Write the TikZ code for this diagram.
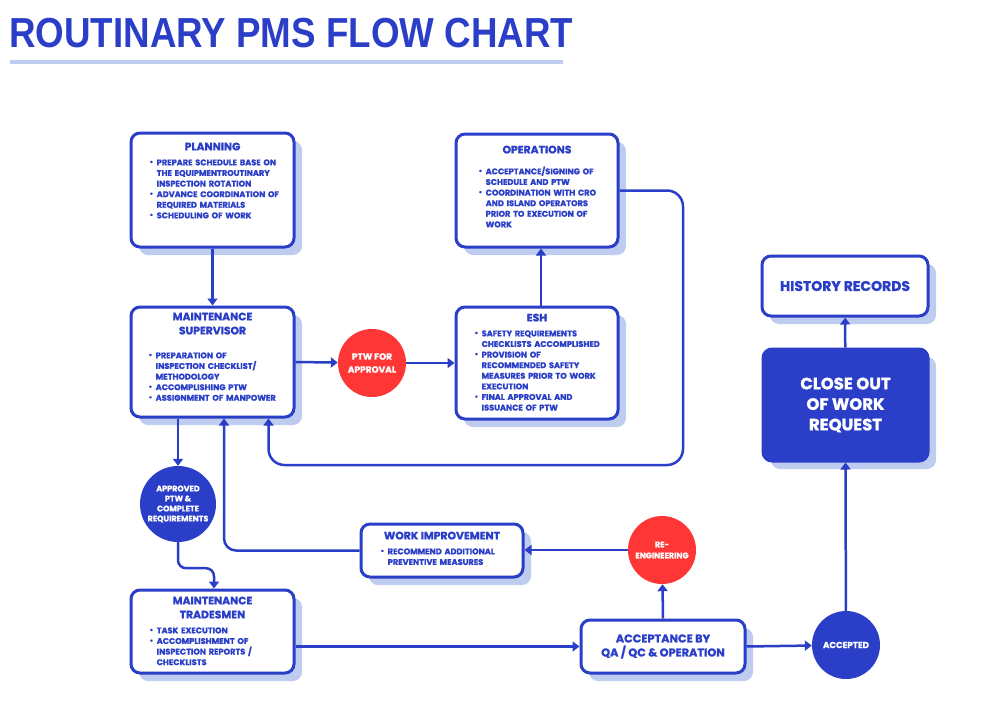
\documentclass[tikz,border=0pt]{standalone}
\usepackage{fontspec}
\usepackage{xcolor}
\usepackage{tikz}
\usetikzlibrary{positioning,arrows.meta,calc,shadows}
\setmainfont{Poppins}[BoldFeatures={FakeBold=1.2}]
\newfontfamily\titlefont{Liberation Sans}
\definecolor{pmsblue}{HTML}{2A3EC7}
\definecolor{pmsshade}{HTML}{BECCF0}
\definecolor{pmsred}{HTML}{FF3636}

\newcommand{\pitem}[1]{\par\noindent\hangindent=7pt\hangafter=1\makebox[7pt][l]{\raisebox{1pt}{\fontsize{7}{7}\selectfont\textbullet}}#1}

\begin{document}
\begin{tikzpicture}[x=1pt,y=-1pt,
  box/.style={draw=pmsblue,fill=white,line width=3pt,rounded corners=9pt,
    general shadow={fill=pmsshade,shadow xshift=8pt,shadow yshift=-8pt}},
  head/.style={font=\bfseries\fontsize{10.8}{14}\selectfont,text=pmsblue,align=center,inner sep=0pt},
  items/.style={font=\bfseries\fontsize{8.2}{10.6}\selectfont,text=pmsblue,align=left,text width=150pt,inner sep=0pt,anchor=north west},
  redc/.style={circle,fill=pmsred,minimum size=68pt,inner sep=0pt,text=white,align=center,font=\bfseries\fontsize{9}{13}\selectfont},
  bluec/.style={circle,fill=pmsblue,minimum size=68pt,inner sep=0pt,text=white,align=center,font=\bfseries\fontsize{8}{10}\selectfont},
  flow/.style={draw=pmsblue,line width=2.5pt,-{Triangle[width=10pt,length=7pt]}}]
\useasboundingbox (0,0) rectangle (1001,726);

% title
\node[anchor=base west,inner sep=0pt,text=pmsblue] (title) at (9,47)
  {\scalebox{0.875}[1]{\titlefont\bfseries\fontsize{42}{42}\selectfont ROUTINARY PMS FLOW CHART}};
\draw[pmsshade,line width=3.5pt] (10,62) -- (563,62);

% boxes
\node[box,minimum width=163pt,minimum height=114pt] (planning) at (212.5,190) {};
\node[box,minimum width=162pt,minimum height=113pt] (operations) at (537,190.5) {};
\node[box,minimum width=163pt,minimum height=110pt] (supervisor) at (212.5,362) {};
\node[box,minimum width=162pt,minimum height=112pt] (esh) at (537,363) {};
\node[box,minimum width=162pt,minimum height=53pt] (workimp) at (442,550.5) {};
\node[box,minimum width=163pt,minimum height=83pt] (trades) at (212.5,631.5) {};
\node[box,minimum width=164pt,minimum height=53pt,text=pmsblue,align=center,
  font=\bfseries\fontsize{11.3}{14}\selectfont] (accept) at (663,646.5) {ACCEPTANCE BY\\QA / QC \& OPERATION};
\node[box,minimum width=166pt,minimum height=60pt,text=pmsblue,
  font=\bfseries\fontsize{14}{16}\selectfont] (history) at (845,286) {HISTORY RECORDS};
\node[box,fill=pmsblue,minimum width=165pt,minimum height=112pt,text=white,align=center,
  font=\bfseries\fontsize{16.5}{20.5}\selectfont] (closeout) at (845.5,405) {CLOSE OUT\\OF WORK\\REQUEST};

% box texts
\node[head,below=11pt of planning.north] (planning-h) {PLANNING};
\node[items] (planning-l) at ([shift={(20,23)}]planning.north west)
  {\pitem{PREPARE SCHEDULE BASE ON\newline THE EQUIPMENTROUTINARY\newline INSPECTION ROTATION}
   \pitem{ADVANCE COORDINATION OF\newline REQUIRED MATERIALS}
   \pitem{SCHEDULING OF WORK}\par};

\node[head,below=13pt of operations.north] (operations-h) {OPERATIONS};
\node[items] (operations-l) at ([shift={(24,31)}]operations.north west)
  {\pitem{ACCEPTANCE/SIGNING OF\newline SCHEDULE AND PTW}
   \pitem{COORDINATION WITH CRO\newline AND ISLAND OPERATORS\newline PRIOR TO EXECUTION OF\newline WORK}\par};

\node[head,below=7pt of supervisor.north] (supervisor-h) {MAINTENANCE\\SUPERVISOR};
\node[items] (supervisor-l) at ([shift={(19,42)}]supervisor.north west)
  {\pitem{PREPARATION OF\newline INSPECTION CHECKLIST/\newline METHODOLOGY}
   \pitem{ACCOMPLISHING PTW}
   \pitem{ASSIGNMENT OF MANPOWER}\par};

\node[head,below=8pt of esh.north] (esh-h) {ESH};
\node[items] (esh-l) at ([shift={(20,20)}]esh.north west)
  {\pitem{SAFETY REQUIREMENTS\newline CHECKLISTS ACCOMPLISHED}
   \pitem{PROVISION OF\newline RECOMMENDED SAFETY\newline MEASURES PRIOR TO WORK\newline EXECUTION}
   \pitem{FINAL APPROVAL AND\newline ISSUANCE OF PTW}\par};

\node[head,below=9pt of workimp.north] (workimp-h) {WORK IMPROVEMENT};
\node[items] (workimp-l) at ([shift={(21,21)}]workimp.north west)
  {\pitem{RECOMMEND ADDITIONAL\newline PREVENTIVE MEASURES}\par};

\node[head,below=8pt of trades.north] (trades-h) {MAINTENANCE\\TRADESMEN};
\node[items] (trades-l) at ([shift={(20,34)}]trades.north west)
  {\pitem{TASK EXECUTION}
   \pitem{ACCOMPLISHMENT OF\newline INSPECTION REPORTS /\newline CHECKLISTS}\par};

% circles
\node[redc] (ptw) at (372,363) {PTW FOR\\APPROVAL};
\node[bluec,minimum size=76pt] (approved) at (178,504) {APPROVED\\PTW \&\\COMPLETE\\REQUIREMENTS};
\node[redc,font=\bfseries\fontsize{8}{11}\selectfont] (reeng) at (662,550) {RE-\\ENGINEERING};
\node[bluec,font=\bfseries\fontsize{8.7}{10}\selectfont] (accepted) at (846,645) {ACCEPTED};

\coordinate (loop) at (683,465);

% connectors
\draw[flow] (planning) -- (supervisor);
\draw[flow] (supervisor.east) -- (ptw);
\draw[flow] (ptw) -- (ptw -| esh.west);
\draw[flow] ([xshift=4pt]esh.north) -- ([xshift=4pt]operations.south);
\draw[flow,rounded corners=16pt] (operations.east) -| (loop) -| ([xshift=56pt]supervisor.south);
\draw[flow] ([xshift=-34.5pt]supervisor.south) -- (approved);
\draw[flow,rounded corners=8pt] (approved.south) -- ++(0,26) -| ([xshift=1.5pt]trades.north);
\draw[flow] (accept.west -| trades.east) -- (accept.west);
\draw[flow] (accept.east) -- (accepted);
\draw[flow] (accept.north) -- (reeng);
\draw[flow] (reeng.west) -- (reeng.west -| workimp.east);
\draw[flow,rounded corners=12pt] (workimp.west) -| ([xshift=11.5pt]supervisor.south);
\draw[flow] (accepted) -- (closeout.south);
\draw[flow] (closeout) -- (history);
\end{tikzpicture}
\end{document}
